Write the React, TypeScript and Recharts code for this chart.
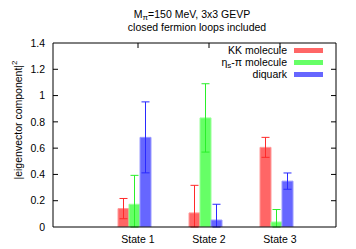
import React from 'react';
import { BarChart, Bar, XAxis, YAxis, ErrorBar, Legend } from 'recharts';

const categories = ['State 1', 'State 2', 'State 3'];
const kkValues = [0.14, 0.107, 0.606];
const kkErrors = [0.077, 0.21, 0.076];
const etaValues = [0.173, 0.83, 0.038];
const etaErrors = [0.22, 0.26, 0.095];
const diquarkValues = [0.682, 0.053, 0.349];
const diquarkErrors = [0.27, 0.12, 0.062];
const yTicks = [0, 0.2, 0.4, 0.6, 0.8, 1, 1.2, 1.4];
const seriesOrder = ['kk', 'eta', 'diquark'];

const FONT = '"Liberation Sans", Arial, Helvetica, sans-serif';
const TICK_SHIFT = 3.5; // gnuplot puts the xtics a bit right of the cluster centre

// the plot is clipped at 0, so the lower whisker stops at the axis
const clipErr = (v: number, e: number) => [Math.min(e, v), e];

const data = categories.map((name, i) => ({
  name,
  kk: kkValues[i],
  kkErr: clipErr(kkValues[i], kkErrors[i]),
  eta: etaValues[i],
  etaErr: clipErr(etaValues[i], etaErrors[i]),
  diquark: diquarkValues[i],
  diquarkErr: clipErr(diquarkValues[i], diquarkErrors[i]),
}));

const fmt = (v: number) => String(Math.round(v * 10) / 10);

const subStyle: React.CSSProperties = { fontSize: 8, position: 'relative', top: 2, verticalAlign: 'baseline', lineHeight: 0 };

const BottomTick = ({ x, y, payload }: any) => (
  <text x={x + TICK_SHIFT} y={y + 15.5} textAnchor="middle" fontSize={10.5} fontFamily={FONT} fill="#000">
    {payload.value}
  </text>
);

const TopTick = ({ x, y }: any) => (
  <line x1={x + TICK_SHIFT} x2={x + TICK_SHIFT} y1={y} y2={y + 5} stroke="#000" />
);

const LeftTick = ({ x, y, payload }: any) => (
  <g>
    <text x={x} y={y} dy="0.36em" textAnchor="end" fontSize={10.5} fontFamily={FONT} fill="#000">
      {fmt(payload.value)}
    </text>
    {payload.value > 0 && payload.value < 1.4 && (
      <line x1={x + 8} x2={x + 13} y1={y} y2={y} stroke="#000" />
    )}
  </g>
);

const RightTick = ({ x, y, payload }: any) =>
  payload.value > 0 && payload.value < 1.4 ? (
    <line x1={x} x2={x - 5} y1={y} y2={y} stroke="#000" />
  ) : null;

const legendLabels: Record<string, React.ReactNode> = {
  kk: 'KK molecule',
  eta: (
    <span>
      η<span style={subStyle}>s</span>-π molecule
    </span>
  ),
  diquark: 'diquark',
};

const LegendBox = ({ payload }: any) => {
  const items = [...(payload || [])].sort(
    (a: any, b: any) => seriesOrder.indexOf(a.dataKey) - seriesOrder.indexOf(b.dataKey)
  );
  return (
    <div style={{ fontFamily: FONT, fontSize: 10.5 }}>
      {items.map((p: any) => (
        <div
          key={p.dataKey}
          style={{ display: 'flex', justifyContent: 'flex-end', alignItems: 'center', height: 12.3, lineHeight: '11px' }}
        >
          <span>{legendLabels[p.dataKey]}</span>
          <span style={{ display: 'inline-block', width: 29, height: 5, marginLeft: 7, background: p.color }} />
        </div>
      ))}
    </div>
  );
};

const YLabel = ({ viewBox }: any) => {
  const cx = viewBox.x + 5;
  const cy = viewBox.y + viewBox.height / 2 - 15;
  return (
    <text
      x={cx}
      y={cy}
      transform={`rotate(-90 ${cx} ${cy})`}
      textAnchor="middle"
      dominantBaseline="central"
      fontSize={10.5}
      fontFamily={FONT}
      fill="#000"
    >
      |eigenvector component|
      <tspan dy={-4} fontSize={8}>2</tspan>
    </text>
  );
};

export default function App() {
  return (
    <div style={{ position: 'fixed', left: 0, top: 0, width: 356, height: 249, background: '#fff' }}>
      <div style={{ position: 'absolute', left: 92, top: 8, width: 200, textAlign: 'center', fontFamily: FONT, fontSize: 10.5, lineHeight: '12px' }}>
        M<span style={subStyle}>π</span>=150 MeV, 3x3 GEVP
      </div>
      <div style={{ position: 'absolute', left: 97, top: 20.5, width: 200, textAlign: 'center', fontFamily: FONT, fontSize: 10.5, lineHeight: '12px' }}>
        closed fermion loops included
      </div>
      <BarChart
        width={356}
        height={249}
        data={data}
        margin={{ top: 42, right: 19, bottom: 2, left: 13 }}
        barSize={11}
        barGap={0}
        style={{ position: 'absolute', left: 0, top: 0 }}
      >
        <XAxis
          dataKey="name"
          padding={{ left: 46, right: 24 }}
          height={20}
          tickSize={0}
          tickMargin={0}
          tick={<BottomTick />}
          axisLine={{ stroke: '#000' }}
          tickLine={false}
        />
        <XAxis
          xAxisId="top"
          dataKey="name"
          orientation="top"
          padding={{ left: 46, right: 24 }}
          height={1}
          tickSize={0}
          tickMargin={0}
          tick={<TopTick />}
          axisLine={{ stroke: '#000' }}
          tickLine={false}
        />
        <YAxis
          domain={[0, 1.4]}
          ticks={yTicks}
          allowDataOverflow
          width={40}
          tickSize={0}
          tickMargin={8}
          tick={<LeftTick />}
          axisLine={{ stroke: '#000' }}
          tickLine={false}
          label={<YLabel />}
        />
        <YAxis
          yAxisId="right"
          orientation="right"
          domain={[0, 1.4]}
          ticks={yTicks}
          allowDataOverflow
          width={1}
          tickSize={0}
          tickMargin={0}
          tick={<RightTick />}
          axisLine={{ stroke: '#000' }}
          tickLine={false}
        />
        <Legend
          layout="vertical"
          align="center"
          verticalAlign="middle"
          content={<LegendBox />}
          wrapperStyle={{ top: 44, left: 150, width: 173, height: 40 }}
        />
        <Bar dataKey="kk" name="KK molecule" fill="#ff6666" stroke="#ff9a9a" strokeWidth={1} isAnimationActive={false}>
          <ErrorBar dataKey="kkErr" width={4} stroke="#ff2a2a" strokeWidth={1} direction="y" />
        </Bar>
        <Bar dataKey="eta" name="eta_s-pi molecule" fill="#66ff66" stroke="#9aff9a" strokeWidth={1} isAnimationActive={false}>
          <ErrorBar dataKey="etaErr" width={4} stroke="#2aef2a" strokeWidth={1} direction="y" />
        </Bar>
        <Bar dataKey="diquark" name="diquark" fill="#6666ff" stroke="#9a9aff" strokeWidth={1} isAnimationActive={false}>
          <ErrorBar dataKey="diquarkErr" width={4} stroke="#2a2aff" strokeWidth={1} direction="y" />
        </Bar>
      </BarChart>
    </div>
  );
}
